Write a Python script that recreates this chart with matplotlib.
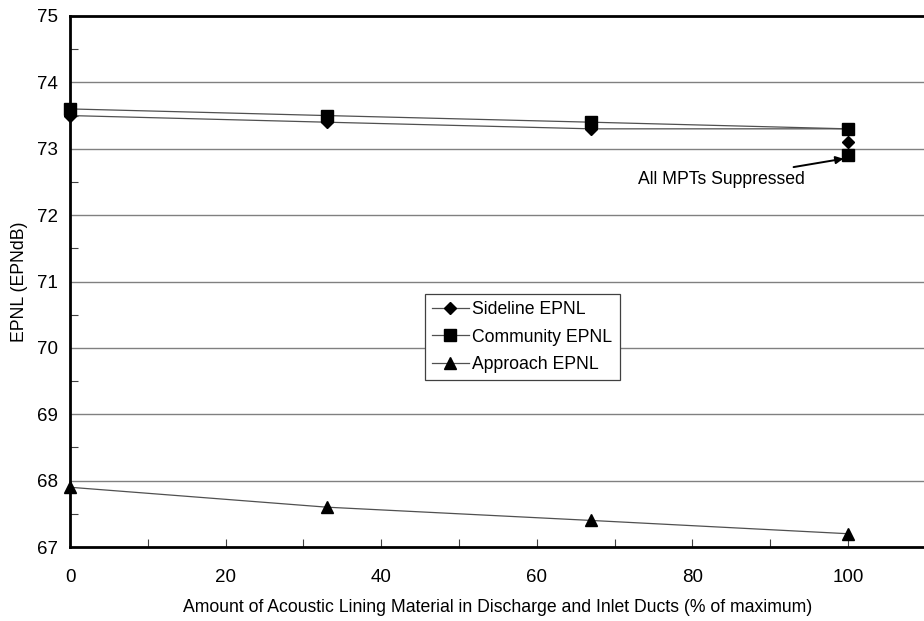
import matplotlib
matplotlib.use("Agg")
import matplotlib.pyplot as plt
from matplotlib.ticker import MultipleLocator

plt.rcParams['font.family'] = ['Liberation Sans', 'DejaVu Sans']

x = [0, 33, 67, 100]
sideline = [73.5, 73.4, 73.3, 73.3]
community = [73.6, 73.5, 73.4, 73.3]
approach = [67.9, 67.6, 67.4, 67.2]
supp_x = 100
sideline_supp = 73.1
community_supp = 72.9

fig = plt.figure(figsize=(9.24, 6.21), dpi=100)
ax = fig.add_axes([70/924, 1-547/621, 1.0-70/924+0.002, (547-16)/621])
ax.set_xlim(0, 110)
ax.set_ylim(67, 75)

for yv in range(68, 75):
    ax.axhline(yv, color='#808080', lw=1.0, zorder=1)

lc = '#505050'
ax.plot(x, sideline, color=lc, lw=0.9, marker='D', ms=6.5, mfc='black', mec='black', label='Sideline EPNL', zorder=3, clip_on=False)
ax.plot(x, community, color=lc, lw=0.9, marker='s', ms=8, mfc='black', mec='black', label='Community EPNL', zorder=3, clip_on=False)
ax.plot(x, approach, color=lc, lw=0.9, marker='^', ms=8.5, mfc='black', mec='black', label='Approach EPNL', zorder=3, clip_on=False)
ax.plot([supp_x], [sideline_supp], ls='none', marker='D', ms=6.5, color='black', zorder=4)
ax.plot([supp_x], [community_supp], ls='none', marker='s', ms=8, color='black', zorder=4)

ax.annotate('All MPTs Suppressed', xy=(99.4, 72.85), xytext=(94.4, 72.54),
            ha='right', va='center', fontsize=12.7,
            arrowprops=dict(arrowstyle='-|>', color='black', lw=1.4, mutation_scale=11,
                            shrinkA=4, shrinkB=0))

ax.xaxis.set_major_locator(MultipleLocator(20))
ax.xaxis.set_minor_locator(MultipleLocator(10))
ax.yaxis.set_major_locator(MultipleLocator(1))
ax.yaxis.set_minor_locator(MultipleLocator(0.5))
ax.set_xticks([0, 20, 40, 60, 80, 100])
ax.tick_params(which='both', direction='in', color='#404040', labelsize=13.5)
ax.tick_params(axis='x', which='both', length=6, width=0.8, pad=16)
ax.tick_params(axis='y', which='both', length=6, width=0.8, pad=9)
ax.tick_params(axis='y', which='major', length=0)

for s in ['left', 'bottom', 'top']:
    ax.spines[s].set_linewidth(2.0)
ax.spines['right'].set_visible(False)

ax.set_xlabel('Amount of Acoustic Lining Material in Discharge and Inlet Ducts (% of maximum)', fontsize=12.7, labelpad=9)
ax.set_ylabel('EPNL (EPNdB)', fontsize=12.7, labelpad=6)

leg = ax.legend(loc='upper left', bbox_to_anchor=((424-70)/854, 1-(294-16)/531), fontsize=12.7,
                frameon=True, fancybox=False, edgecolor='#404040', framealpha=1,
                handlelength=2.1, borderpad=0.4, labelspacing=0.6, handletextpad=0.2,
                borderaxespad=0)
leg.get_frame().set_linewidth(0.9)

fig.savefig('out.png', dpi=100)
